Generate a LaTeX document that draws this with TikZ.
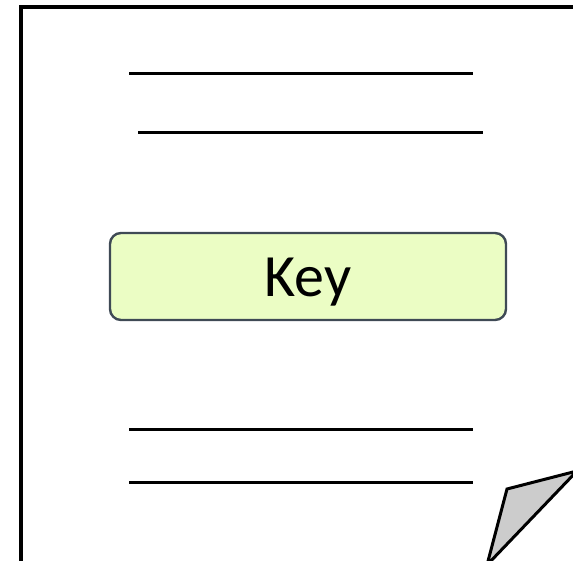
\documentclass[tikz,border=0pt]{standalone}
\usepackage{fontspec}
\setmainfont{Carlito}
\definecolor{keyfill}{HTML}{EBFDC4}
\definecolor{keydraw}{HTML}{3F4A55}
\definecolor{foldfill}{HTML}{CCCCCC}
\begin{document}
\begin{tikzpicture}[x=1pt,y=-1pt,
  textline/.style={line width=3pt,black},
  keybox/.style={draw=keydraw,fill=keyfill,line width=2.4pt,rounded corners=11pt,
    minimum width=396pt,minimum height=87pt,inner sep=0pt,font=\fontsize{60}{72}\selectfont},
  fold/.style={draw=black,fill=foldfill,line width=3pt,line join=miter}]
\useasboundingbox (0,0) rectangle (573,561);
\clip (0,0) rectangle (573,561);
\draw[line width=3.2pt] (21,570) -- (21,7) -- (580,7);
\coordinate (l1a) at (129,74);  \coordinate (l1b) at (473,74);
\coordinate (l2a) at (138,133); \coordinate (l2b) at (483,133);
\coordinate (l3a) at (129,429); \coordinate (l3b) at (473,429);
\coordinate (l4a) at (129,482); \coordinate (l4b) at (473,482);
\draw[textline] (l1a) -- (l1b);
\draw[textline] (l2a) -- (l2b);
\draw[textline] (l3a) -- (l3b);
\draw[textline] (l4a) -- (l4b);
\node[keybox] (key) at (308,276.5) {};
\node[font=\fontsize{60}{72}\selectfont,inner sep=0pt,anchor=base] (keytext) at (308,297) {Key};
\coordinate (fa) at (507,489);
\coordinate (fb) at (577,471);
\coordinate (fc) at (487,565);
\draw[fold] (fc) -- (fa) -- (fb) -- cycle;
\end{tikzpicture}
\end{document}
